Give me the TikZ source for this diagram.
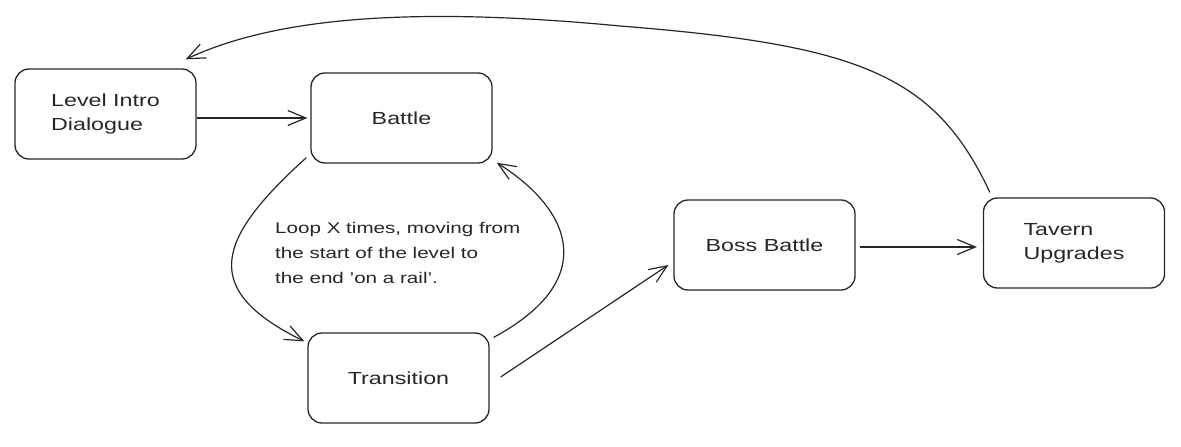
\documentclass[tikz,border=0pt]{standalone}
\usepackage{fontspec}
\setmainfont{Liberation Sans}[FakeStretch=1.33]
\usetikzlibrary{arrows.meta,calc}
\tikzset{
  box/.style={draw=black!85, line width=1.3pt, rounded corners=14pt,
    minimum width=181pt, minimum height=90pt, inner sep=0pt,
    font=\fontsize{17.5}{24}\selectfont, align=left, text=black!85},
  arr/.style={draw=black!85, line width=1.2pt,
    -{Straight Barb[length=18pt,width=15pt,line width=1.2pt]}},
  note/.style={font=\fontsize{15.5}{25}\selectfont, align=left, text=black!85, inner sep=0pt, anchor=north west}
}
\begin{document}
\begin{tikzpicture}[x=1pt,y=-1pt]
\useasboundingbox (0,0) rectangle (1181,447);
\node[box] (intro) at (105.5,114) {Level Intro\\Dialogue};
\node[box] (battle) at (401.5,118) {Battle};
\node[box] (trans) at (398.5,378) {Transition};
\node[box] (boss) at (764.5,245) {Boss Battle};
\node[box] (tavern) at (1074,243) {Tavern\\Upgrades};
\node[note] (loop) at (275,222) {Loop X times, moving from\\the start of the level to\\the end 'on a rail'.};
% connectors
\draw[arr, shorten >=3pt] (intro.east |- battle.west) -- (battle.west);
\draw[arr] ($(battle.south west)+(-4,-6)$) .. controls (215,240) and (200,290) .. ($(trans.north west)+(-3,9)$);
\draw[arr] ($(trans.north east)+(4,5)$) .. controls (600,280) and (572,210) .. ($(battle.south east)+(4,-1)$);
\draw[arr] ($(trans.east)+(11,-1)$) -- ($(boss.west)+(-5,20)$);
\draw[arr] ($(boss.east)+(4,2)$) -- ($(tavern.west)+(-6,4)$);
\draw[arr] ($(tavern.north west)+(7,-5)$) .. controls (935,75) and (860,45) .. (620,26)
  .. controls (400,5) and (270,20) .. ($(intro.north east)+(-11,-9)$);
\end{tikzpicture}
\end{document}
